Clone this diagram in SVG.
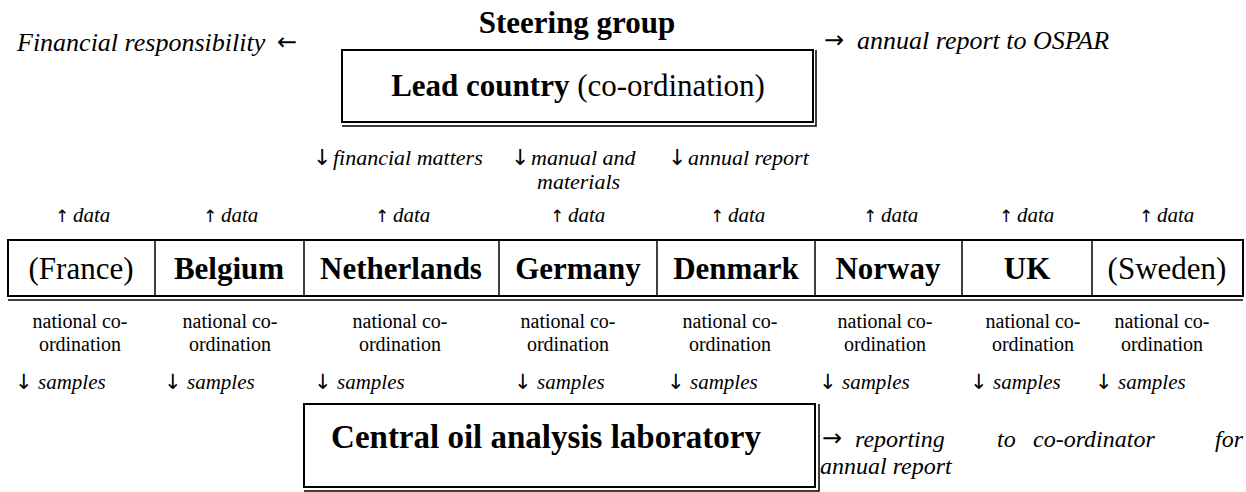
<svg xmlns="http://www.w3.org/2000/svg" width="1246" height="492" viewBox="0 0 1246 492">
<style>
  text { font-family: "Liberation Serif", "Times New Roman", serif; fill: #000; }
  .b { font-weight: bold; font-size: 31px; }
  .r { font-size: 31px; }
  .top { font-style: italic; font-size: 26px; }
  .mid { font-style: italic; font-size: 22px; }
  .data { font-style: italic; font-size: 21px; }
  .arr { font-family: "DejaVu Sans", sans-serif; font-style: normal; font-weight: normal; }
  .ua { font-size: 17px; }
  .nat { font-size: 20px; text-anchor: middle; }
  .smp { font-style: italic; font-size: 21px; }
  .rep { font-style: italic; font-size: 24px; }
  .box { fill: #fff; stroke: #000; stroke-width: 2; }
  .sh { fill: none; stroke: #000; stroke-width: 1.5; }
  .div { stroke: #000; stroke-width: 1.5; }
  .mc { text-anchor: middle; }
</style>

<g id="steering-group">
  <text class="b mc" x="577" y="33">Steering group</text>
</g>

<g id="lead-country">
  <rect class="box" x="342" y="50" width="471" height="72"/>
  <polyline class="sh" points="816,50 816,126 342,126"/>
  <text class="mc" x="578" y="96"><tspan class="b">Lead country</tspan><tspan class="r"> (co-ordination)</tspan></text>
</g>

<g id="financial-responsibility">
  <text class="top" x="17" y="51">Financial responsibility</text>
</g>

<g id="annual-report-ospar">
  <text class="top" x="857" y="49">annual report to OSPAR</text>
</g>

<g id="countries">
  <rect class="box" x="8" y="240" width="1235" height="56"/>
  <line class="sh" x1="8" y1="300" x2="1243" y2="300"/>
  <line class="div" x1="155" y1="240" x2="155" y2="296"/>
  <line class="div" x1="304" y1="240" x2="304" y2="296"/>
  <line class="div" x1="499" y1="240" x2="499" y2="296"/>
  <line class="div" x1="657" y1="240" x2="657" y2="296"/>
  <line class="div" x1="815" y1="240" x2="815" y2="296"/>
  <line class="div" x1="962" y1="240" x2="962" y2="296"/>
  <line class="div" x1="1092" y1="240" x2="1092" y2="296"/>
  <g id="france"><text class="r mc" x="81" y="279">(France)</text></g>
  <g id="belgium"><text class="b mc" x="229" y="279">Belgium</text></g>
  <g id="netherlands"><text class="b mc" x="401" y="279">Netherlands</text></g>
  <g id="germany"><text class="b mc" x="578" y="279">Germany</text></g>
  <g id="denmark"><text class="b mc" x="736" y="279">Denmark</text></g>
  <g id="norway"><text class="b mc" x="888" y="279">Norway</text></g>
  <g id="uk"><text class="b mc" x="1027" y="279">UK</text></g>
  <g id="sweden"><text class="r mc" x="1167" y="279">(Sweden)</text></g>
</g>

<g id="national-coordination">
  <text class="nat" x="80" y="328">national co-</text>
  <text class="nat" x="80" y="351">ordination</text>
  <text class="nat" x="230" y="328">national co-</text>
  <text class="nat" x="230" y="351">ordination</text>
  <text class="nat" x="400" y="328">national co-</text>
  <text class="nat" x="400" y="351">ordination</text>
  <text class="nat" x="568" y="328">national co-</text>
  <text class="nat" x="568" y="351">ordination</text>
  <text class="nat" x="730" y="328">national co-</text>
  <text class="nat" x="730" y="351">ordination</text>
  <text class="nat" x="885" y="328">national co-</text>
  <text class="nat" x="885" y="351">ordination</text>
  <text class="nat" x="1033" y="328">national co-</text>
  <text class="nat" x="1033" y="351">ordination</text>
  <text class="nat" x="1162" y="328">national co-</text>
  <text class="nat" x="1162" y="351">ordination</text>
</g>

<g id="central-lab">
  <rect class="box" x="304" y="404" width="511" height="83"/>
  <polyline class="sh" points="819,404 819,491 304,491"/>
  <text class="b mc" x="546" y="448" style="font-size:33px">Central oil analysis laboratory</text>
</g>

<g id="reporting">
  <text class="rep" y="447"><tspan x="855">reporting</tspan><tspan x="997">to</tspan><tspan x="1033">co-ordinator</tspan><tspan x="1215">for</tspan></text>
  <text class="rep" x="820" y="474">annual report</text>
</g>

<g id="connectors">
  <text class="top arr" x="277" y="50" style="font-size:24px">←</text>
  <text class="top arr" x="824" y="48" style="font-size:24px">→</text>
  <text class="mid" y="165"><tspan class="arr" x="313">↓</tspan><tspan x="333">financial matters</tspan></text>
  <text class="mid" y="165"><tspan class="arr" x="511">↓</tspan><tspan x="531">manual and</tspan></text>
  <text class="mid" x="537" y="189">materials</text>
  <text class="mid" y="165"><tspan class="arr" x="668">↓</tspan><tspan x="688">annual report</tspan></text>
  <text class="data" y="222"><tspan class="arr ua" x="55">↑</tspan><tspan x="73">data</tspan></text>
  <text class="data" y="222"><tspan class="arr ua" x="203">↑</tspan><tspan x="221">data</tspan></text>
  <text class="data" y="222"><tspan class="arr ua" x="375">↑</tspan><tspan x="393">data</tspan></text>
  <text class="data" y="222"><tspan class="arr ua" x="550">↑</tspan><tspan x="568">data</tspan></text>
  <text class="data" y="222"><tspan class="arr ua" x="710">↑</tspan><tspan x="728">data</tspan></text>
  <text class="data" y="222"><tspan class="arr ua" x="863">↑</tspan><tspan x="881">data</tspan></text>
  <text class="data" y="222"><tspan class="arr ua" x="999">↑</tspan><tspan x="1017">data</tspan></text>
  <text class="data" y="222"><tspan class="arr ua" x="1139">↑</tspan><tspan x="1157">data</tspan></text>
  <text class="smp" y="389"><tspan class="arr" x="15">↓</tspan><tspan x="38">samples</tspan></text>
  <text class="smp" y="389"><tspan class="arr" x="164">↓</tspan><tspan x="187">samples</tspan></text>
  <text class="smp" y="389"><tspan class="arr" x="314">↓</tspan><tspan x="337">samples</tspan></text>
  <text class="smp" y="389"><tspan class="arr" x="514">↓</tspan><tspan x="537">samples</tspan></text>
  <text class="smp" y="389"><tspan class="arr" x="667">↓</tspan><tspan x="690">samples</tspan></text>
  <text class="smp" y="389"><tspan class="arr" x="819">↓</tspan><tspan x="842">samples</tspan></text>
  <text class="smp" y="389"><tspan class="arr" x="970">↓</tspan><tspan x="993">samples</tspan></text>
  <text class="smp" y="389"><tspan class="arr" x="1095">↓</tspan><tspan x="1118">samples</tspan></text>
  <text class="rep arr" x="822" y="446" style="font-size:24px">→</text>
</g>
</svg>
